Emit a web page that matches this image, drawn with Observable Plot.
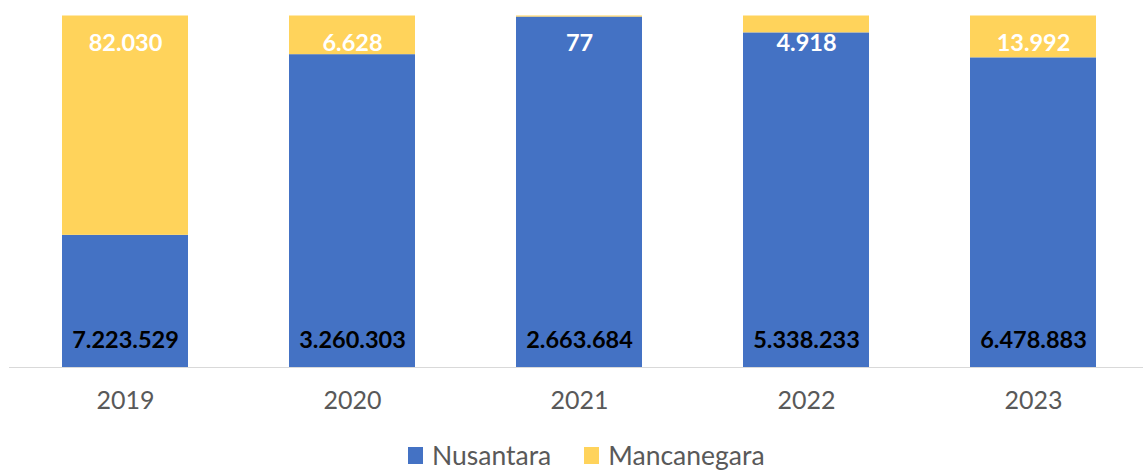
<!DOCTYPE html>
<html>
<head>
<meta charset="utf-8">
<script src="https://cdn.jsdelivr.net/npm/d3@7"></script>
<script src="https://cdn.jsdelivr.net/npm/@observablehq/plot@0.6"></script>
<style>
  html, body { margin: 0; padding: 0; background: #fff; }
  #legend { display: flex; justify-content: flex-start; align-items: center; height: 36px; padding-left: 408px; padding-top: 4px; box-sizing: border-box; font-family: Lato, "Open Sans", sans-serif; font-size: 26.5px; color: #595959; }
  .item { display: flex; align-items: center; margin-right: 33px; }
  .sw { width: 15px; height: 17px; margin-right: 9px; }
</style>
</head>
<body>
<div id="chart"></div>
<div id="legend"></div>
<script>
const years = ["2019", "2020", "2021", "2022", "2023"];
const series = ["Nusantara", "Mancanegara"];
const colors = ["#4472C4", "#FFD35B"];
// displayed value labels
const nusantaraLabels = ["7.223.529", "3.260.303", "2.663.684", "5.338.233", "6.478.883"];
const mancanegaraLabels = ["82.030", "6.628", "77", "4.918", "13.992"];
// bar segment heights (percent of full bar)
const nusantaraShare = [37.6, 89.0, 99.7, 95.2, 88.1];
const mancanegaraShare = [62.4, 11.0, 0.3, 4.8, 11.9];

const data = [];
years.forEach((y, i) => {
  data.push({year: y, series: series[0], share: nusantaraShare[i], label: nusantaraLabels[i]});
  data.push({year: y, series: series[1], share: mancanegaraShare[i], label: mancanegaraLabels[i]});
});
const nusData = data.filter(d => d.series === series[0]);
const manData = data.filter(d => d.series === series[1]);

const chart = Plot.plot({
  width: 1143,
  height: 435,
  marginTop: 15.5,
  marginBottom: 68,
  marginLeft: 9,
  marginRight: 0,
  style: {fontFamily: "Lato, 'Open Sans', sans-serif", background: "#fff"},
  x: {domain: years, range: [9.8, 1147.2], paddingInner: 0.447, paddingOuter: 0.22, label: null},
  y: {domain: [0, 100], axis: null},
  color: {domain: series, range: colors},
  marks: [
    Plot.barY(data, {x: "year", y: "share", fill: "series", order: series}),
    Plot.ruleY([0], {stroke: "#d9d9d9", strokeWidth: 1.2}),
    Plot.text(nusData, {x: "year", y: 0, text: "label", dy: -27, fill: "#000", fontWeight: "bold", fontSize: 23.5}),
    Plot.text(manData, {x: "year", y: 100, text: "label", dy: 27, fill: "#fff", fontWeight: "bold", fontSize: 23.5}),
    Plot.axisX({tickSize: 0, tickPadding: 24, fontSize: 25, color: "#595959", label: null})
  ]
});
chart.style.display = "block";
document.getElementById("chart").appendChild(chart);

const legend = document.getElementById("legend");
series.forEach((s, i) => {
  const item = document.createElement("div");
  item.className = "item";
  const sw = document.createElement("span");
  sw.className = "sw";
  sw.style.background = colors[i];
  const t = document.createElement("span");
  t.textContent = s;
  item.appendChild(sw);
  item.appendChild(t);
  legend.appendChild(item);
});
</script>
</body>
</html>
